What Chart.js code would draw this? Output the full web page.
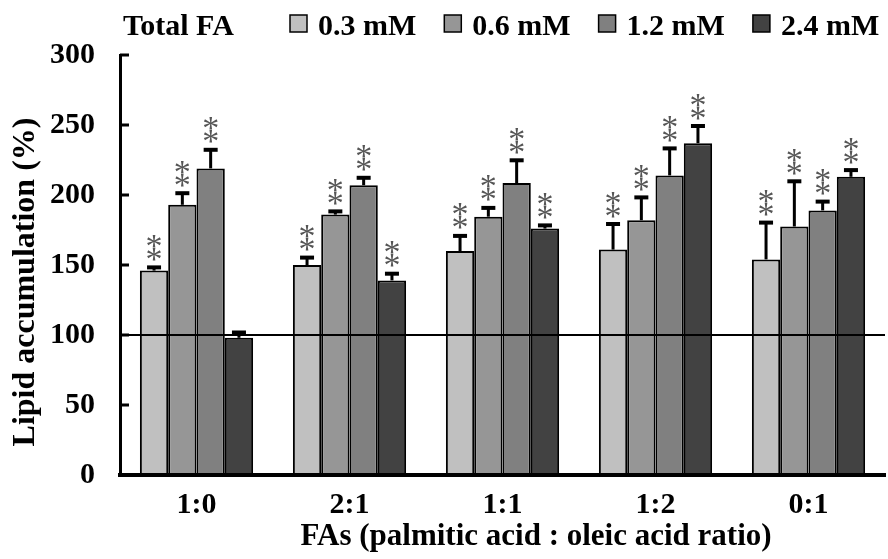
<!DOCTYPE html>
<html><head><meta charset="utf-8">
<script src="https://cdn.jsdelivr.net/npm/chart.js@4"></script>
<style>html,body{margin:0;padding:0;background:#fff;}canvas{display:block;}</style>
</head><body>
<canvas id="c" width="888" height="559"></canvas>
<script>
// ---- data ----
const categories = ['1:0', '2:1', '1:1', '1:2', '0:1'];
const seriesLabels = ['0.3 mM', '0.6 mM', '1.2 mM', '2.4 mM'];
const mean03 = [146, 150, 160, 161, 154];
const mean06 = [193, 186, 184.5, 182, 177.5];
const mean12 = [219, 207, 208.5, 214, 189];
const mean24 = [98, 139, 176, 237, 213];
const err03 = [3, 6, 11.5, 19, 27];
const err06 = [9, 3, 7, 17, 33];
const err12 = [14, 6, 17, 20, 7];
const err24 = [4.5, 5.5, 3, 13, 5.5];
const stars03 = [2, 2, 2, 2, 2];
const stars06 = [2, 2, 2, 2, 2];
const stars12 = [2, 2, 2, 2, 2];
const stars24 = [0, 2, 2, 2, 2];
const yTicks = [0, 50, 100, 150, 200, 250, 300];
const referenceLevel = 100;
const legendTitle = 'Total FA';
const xTitle = 'FAs (palmitic acid : oleic acid ratio)';
const yTitle = 'Lipid accumulation (%)';

const colors = ['#c0c0c0', '#969696', '#808080', '#424242'];
const means = [mean03, mean06, mean12, mean24];
const errs = [err03, err06, err12, err24];
const stars = [stars03, stars06, stars12, stars24];
const FONT = "'Liberation Serif', 'Times New Roman', serif";

const datasets = seriesLabels.map((lab, i) => ({
  label: lab,
  data: means[i],
  errors: errs[i],
  stars: stars[i],
  backgroundColor: colors[i],
  borderColor: '#000',
  borderWidth: 2,
  borderSkipped: false,
  categoryPercentage: 0.74,
  barPercentage: 1.0
}));

const decor = {
  id: 'decor',
  afterDatasetsDraw(chart) {
    const ctx = chart.ctx, y = chart.scales.y, a = chart.chartArea;
    ctx.save();
    // reference line
    const ry = y.getPixelForValue(referenceLevel);
    ctx.strokeStyle = '#000'; ctx.lineWidth = 1.8;
    ctx.beginPath(); ctx.moveTo(a.left, ry); ctx.lineTo(a.right, ry); ctx.stroke();
    // error bars + asterisks
    chart.data.datasets.forEach((ds, di) => {
      const meta = chart.getDatasetMeta(di);
      meta.data.forEach((bar, k) => {
        const v = ds.data[k], e = ds.errors[k];
        const x = bar.x, top = y.getPixelForValue(v), et = y.getPixelForValue(v + e);
        ctx.fillStyle = '#000';
        ctx.fillRect(x - 1.5, et, 3, top - et);
        ctx.fillRect(x - 7, et - 1, 14, 4);
        const n = ds.stars[k];
        ctx.font = "34px " + FONT;
        ctx.fillStyle = '#555';
        ctx.textAlign = 'center';
        ctx.textBaseline = 'alphabetic';
        const m = ctx.measureText('*');
        const off = (m.actualBoundingBoxAscent - m.actualBoundingBoxDescent) / 2;
        for (let s = 0; s < n; s++) {
          const cy = et - 12 - s * 13;
          ctx.fillText('*', x, cy + off);
        }
      });
    });
    ctx.restore();
  },
  afterDraw(chart) {
    const ctx = chart.ctx, y = chart.scales.y, a = chart.chartArea;
    ctx.save();
    // inward y ticks
    ctx.fillStyle = '#000';
    yTicks.forEach(v => {
      const py = y.getPixelForValue(v);
      ctx.fillRect(a.left, py - 1.5, 9, 3);
    });
    // legend
    ctx.font = "bold 30px " + FONT;
    ctx.textBaseline = 'alphabetic';
    ctx.textAlign = 'left';
    ctx.fillStyle = '#000';
    ctx.fillText(legendTitle, 123, 35);
    chart.data.datasets.forEach((ds, i) => {
      const bx = 290 + i * 154.3;
      ctx.fillStyle = ds.backgroundColor;
      ctx.fillRect(bx, 15, 17, 17);
      ctx.strokeStyle = '#000'; ctx.lineWidth = 1.5;
      ctx.strokeRect(bx, 15, 17, 17);
      ctx.fillStyle = '#000';
      ctx.fillText(ds.label, bx + 28, 35);
    });
    // axis titles
    ctx.font = "bold 31px " + FONT;
    ctx.textAlign = 'center';
    ctx.textBaseline = 'middle';
    ctx.fillText(xTitle, 536, 537);
    ctx.font = "bold 32px " + FONT;
    ctx.translate(26, 282);
    ctx.rotate(-Math.PI / 2);
    ctx.fillText(yTitle, 0, 0);
    ctx.restore();
  }
};

new Chart(document.getElementById('c'), {
  type: 'bar',
  data: { labels: categories, datasets },
  options: {
    responsive: false,
    animation: false,
    devicePixelRatio: 1,
    layout: { padding: { top: 55, right: 3, left: 0, bottom: 0 } },
    plugins: { legend: { display: false }, tooltip: { enabled: false } },
    scales: {
      x: {
        grid: { display: false, drawTicks: false },
        border: { display: true, color: '#000', width: 4 },
        ticks: { color: '#000', font: { family: FONT, size: 30, weight: 'bold' }, padding: 12 },
        afterFit(s) { s.height = 84; }
      },
      y: {
        min: 0, max: 300,
        grid: { display: false, drawTicks: false },
        border: { display: true, color: '#000', width: 3 },
        ticks: { color: '#000', font: { family: FONT, size: 30, weight: 'bold' }, padding: 25 },
        afterBuildTicks(s) { s.ticks = yTicks.map(v => ({ value: v })); },
        afterFit(s) { s.width = 120; }
      }
    }
  },
  plugins: [decor]
});
</script>
</body></html>
